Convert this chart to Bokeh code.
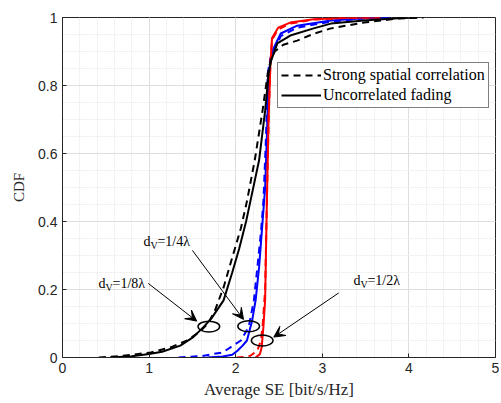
from bokeh.plotting import figure
from bokeh.models import (Legend, LegendItem, Arrow, VeeHead, FixedTicker, ColumnDataSource)
from bokeh.core.properties import value
from bokeh.embed import file_html
from bokeh.resources import INLINE

# ---------------- data ----------------
# d_V = 1/8 lambda (black)
bk_unc_x = [0.55, 0.80, 1.00, 1.15, 1.36, 1.51, 1.63, 1.72, 1.86, 1.96, 2.04, 2.12, 2.17, 2.27, 2.34,
            2.38, 2.41, 2.48, 2.63, 2.90, 3.10, 3.48, 3.87, 4.10]
bk_unc_y = [0.0, 0.004, 0.01, 0.017, 0.035, 0.06, 0.09, 0.115, 0.168, 0.25, 0.32, 0.40, 0.46, 0.58, 0.726,
            0.835, 0.874, 0.924, 0.947, 0.968, 0.982, 0.991, 0.998, 1.0]
bk_cor_x = [0.42, 0.70, 1.02, 1.25, 1.44, 1.58, 1.68, 1.76, 1.86, 1.96, 2.06, 2.13, 2.22, 2.31, 2.37,
            2.40, 2.45, 2.55, 2.71, 2.90, 3.10, 3.48, 3.87, 4.17]
bk_cor_y = [0.0, 0.005, 0.015, 0.03, 0.05, 0.075, 0.10, 0.138, 0.206, 0.294, 0.38, 0.46, 0.58, 0.726, 0.835,
            0.87, 0.90, 0.92, 0.932, 0.952, 0.968, 0.985, 0.997, 1.0]
# d_V = 1/4 lambda (blue)
bl_unc_x = [1.67, 1.85, 1.96, 2.02, 2.08, 2.13, 2.19, 2.23, 2.27, 2.30, 2.34, 2.36, 2.38, 2.42, 2.52,
            2.71, 3.10, 3.48, 3.79]
bl_unc_y = [0.0, 0.003, 0.008, 0.02, 0.035, 0.05, 0.109, 0.168, 0.265, 0.365, 0.50, 0.65, 0.835, 0.90, 0.953,
            0.976, 0.991, 0.998, 1.0]
bl_cor_x = [1.34, 1.60, 1.85, 1.94, 2.06, 2.15, 2.21, 2.25, 2.29, 2.32, 2.35, 2.37, 2.40, 2.52, 2.71,
            3.10, 3.48, 3.79]
bl_cor_y = [0.0, 0.004, 0.015, 0.03, 0.05, 0.09, 0.168, 0.265, 0.365, 0.46, 0.65, 0.835, 0.88, 0.945, 0.970,
            0.988, 0.997, 1.0]
# d_V = 1/2 lambda (red)
rd_unc_x = [2.23, 2.28, 2.30, 2.32, 2.34, 2.36, 2.38, 2.40, 2.42, 2.49, 2.63, 2.90, 3.30, 3.67]
rd_unc_y = [0.0, 0.01, 0.03, 0.09, 0.17, 0.46, 0.70, 0.86, 0.94, 0.97, 0.985, 0.995, 0.999, 1.0]
rd_cor_x = [2.01, 2.10, 2.17, 2.25, 2.29, 2.31, 2.34, 2.36, 2.38, 2.40, 2.42, 2.49, 2.63, 2.90, 3.30, 3.67]
rd_cor_y = [0.0, 0.002, 0.005, 0.02, 0.05, 0.09, 0.20, 0.46, 0.70, 0.86, 0.935, 0.965, 0.982, 0.994, 0.999, 1.0]

legend_labels = ["Strong spatial correlation", "Uncorrelated fading"]
x_ticks = [0, 1, 2, 3, 4, 5]
y_ticks = [0, 0.2, 0.4, 0.6, 0.8, 1]

# annotations
ann_frac = ["=1/8\u03bb", "=1/4\u03bb", "=1/2\u03bb"]
ann_x = [0.416, 0.935, 3.36]
ann_y = [0.218, 0.341, 0.226]
ell_x = [1.69, 2.15, 2.306]
ell_y = [0.091, 0.092, 0.05]
arr_x0 = [0.99, 1.50, 3.19]
arr_y0 = [0.218, 0.315, 0.19]
arr_x1 = [1.55, 2.09, 2.44]
arr_y1 = [0.107, 0.112, 0.06]

# ---------------- figure ----------------
p = figure(width=499, height=401, x_range=(0, 5), y_range=(0, 1),
           output_backend="svg", toolbar_location=None,
           min_border_left=62, min_border_top=17, min_border_bottom=44, min_border_right=4)
p.background_fill_color = "white"
p.border_fill_color = "white"
p.outline_line_color = "#262626"
p.outline_line_width = 1
p.outline_line_alpha = 1

p.xaxis.ticker = FixedTicker(ticks=x_ticks, minor_ticks=[i * 0.2 for i in range(26)])
p.yaxis.ticker = FixedTicker(ticks=y_ticks, minor_ticks=[i * 0.05 for i in range(21)])
for ax in (p.xaxis, p.yaxis):
    ax.axis_line_color = "#262626"
    ax.major_tick_line_color = "#262626"
    ax.major_tick_in = 4
    ax.major_tick_out = 0
    ax.minor_tick_in = 0
    ax.minor_tick_out = 0
    ax.major_label_text_font = "Liberation Sans"
    ax.major_label_text_font_size = "14px"
    ax.major_label_text_color = "#262626"
    ax.axis_label_text_font = "Liberation Serif"
    ax.axis_label_text_font_style = "normal"
    ax.axis_label_text_color = "#262626"
p.xaxis.major_label_standoff = 5
p.yaxis.major_label_standoff = 5
p.xaxis.axis_label = "Average SE [bit/s/Hz]"
p.yaxis.axis_label = "CDF"
p.xaxis.axis_label_text_font_size = "17px"
p.yaxis.axis_label_text_font_size = "15px"
p.xaxis.axis_label_standoff = 4
p.yaxis.axis_label_standoff = 8

p.xgrid.grid_line_color = "#dedede"
p.ygrid.grid_line_color = "#dedede"
p.xgrid.minor_grid_line_color = "#ececec"
p.ygrid.minor_grid_line_color = "#ececec"
p.xgrid.minor_grid_line_dash = "2 1"
p.ygrid.minor_grid_line_dash = "2 1"

LW = 2
DASH = "7 5"
r_bl_cor = p.line(bl_cor_x, bl_cor_y, line_color="#0000ff", line_width=LW, line_dash=DASH)
r_bl_unc = p.line(bl_unc_x, bl_unc_y, line_color="#0000ff", line_width=LW)
r_rd_cor = p.line(rd_cor_x, rd_cor_y, line_color="#ff0000", line_width=LW, line_dash=DASH)
r_rd_unc = p.line(rd_unc_x, rd_unc_y, line_color="#ff0000", line_width=LW)
r_bk_cor = p.line(bk_cor_x, bk_cor_y, line_color="black", line_width=LW, line_dash=DASH)
r_bk_unc = p.line(bk_unc_x, bk_unc_y, line_color="black", line_width=LW)

# ellipses
p.ellipse(x=ell_x, y=ell_y, width=0.25, height=0.032, fill_alpha=0,
          line_color="black", line_width=1.5)

# arrows
for i in range(3):
    p.add_layout(Arrow(x_start=arr_x0[i], y_start=arr_y0[i], x_end=arr_x1[i], y_end=arr_y1[i],
                       line_color="black", line_width=1,
                       end=VeeHead(size=11, fill_color="black", line_color="black", line_width=1)))

# annotation texts  d_V = ...
src = ColumnDataSource(dict(x=ann_x, y=ann_y, d=["d"] * 3, v=["V"] * 3, f=ann_frac))
p.text(x="x", y="y", text="d", source=src, text_font=value("Liberation Serif"),
       text_font_size="14px", text_baseline="alphabetic", text_align="left", text_color="black")
p.text(x="x", y="y", text="v", source=src, text_font=value("Liberation Serif"),
       text_font_size="10px", text_baseline="alphabetic", text_align="left", text_color="black",
       x_offset=7, y_offset=4)
p.text(x="x", y="y", text="f", source=src, text_font=value("Liberation Serif"),
       text_font_size="14px", text_baseline="alphabetic", text_align="left", text_color="black",
       x_offset=14)

legend = Legend(items=[LegendItem(label=legend_labels[0], renderers=[r_bk_cor]),
                       LegendItem(label=legend_labels[1], renderers=[r_bk_unc])],
                location=(215, 249))
legend.label_text_font = "Liberation Serif"
legend.label_text_font_size = "16px"
legend.label_text_color = "black"
legend.glyph_width = 40
legend.glyph_height = 18
legend.label_height = 18
legend.label_standoff = 2
legend.padding = 3
legend.spacing = 2
legend.margin = 0
legend.border_line_color = "black"
legend.border_line_width = 1
legend.background_fill_alpha = 1
p.add_layout(legend)

open("out.html", "w").write(file_html(p, INLINE))
